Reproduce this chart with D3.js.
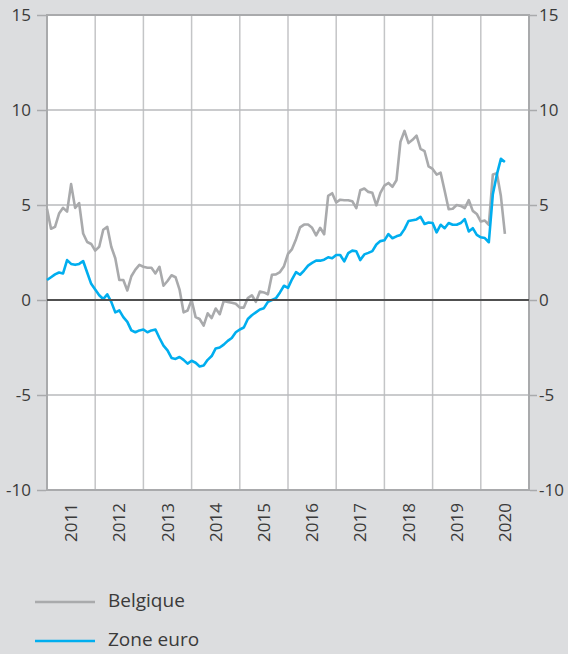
<!DOCTYPE html>
<html>
<head>
<meta charset="utf-8">
<script src="https://cdn.jsdelivr.net/npm/d3@7"></script>
<style>
  body { margin: 0; background: #dcdddf; }
  svg { display: block; font-family: "Open Sans", "Noto Sans", sans-serif; }
</style>
</head>
<body>
<svg id="chart" width="568" height="654"></svg>
<script>
// monthly series, Jan 2011 -> Jul 2020
const years = [2011, 2012, 2013, 2014, 2015, 2016, 2017, 2018, 2019, 2020];
const yTicks = [-10, -5, 0, 5, 10, 15];

const belgique = [
  4.8, 3.75, 3.85, 4.55, 4.85, 4.65, 6.1, 4.85, 5.1, 3.5, 3.05, 2.95,
  2.6, 2.8, 3.7, 3.85, 2.8, 2.2, 1.05, 1.05, 0.5, 1.25, 1.6, 1.85,
  1.75, 1.7, 1.7, 1.4, 1.75, 0.75, 1.0, 1.3, 1.2, 0.55, -0.65, -0.55,
  0.0, -0.9, -1.0, -1.35, -0.7, -0.95, -0.45, -0.75, -0.05, -0.1, -0.15, -0.2,
  -0.4, -0.4, 0.1, 0.25, -0.1, 0.45, 0.4, 0.3, 1.33, 1.35, 1.47, 1.78,
  2.43, 2.68, 3.2, 3.82, 3.97, 3.97, 3.8, 3.4, 3.8, 3.46, 5.48, 5.62,
  5.13, 5.28, 5.25, 5.25, 5.2, 4.83, 5.78, 5.87, 5.69, 5.64, 4.98, 5.64,
  6.02, 6.16, 5.96, 6.3, 8.33, 8.9, 8.26, 8.43, 8.65, 7.95, 7.83, 7.03,
  6.9, 6.6, 6.7, 5.75, 4.78, 4.8, 5.0, 4.95, 4.83, 5.26, 4.69, 4.53,
  4.13, 4.18, 3.96, 6.61, 6.67, 5.47, 3.48
];

const zoneEuro = [
  1.05, 1.2, 1.35, 1.45, 1.4, 2.1, 1.9, 1.85, 1.9, 2.05, 1.45, 0.85,
  0.55, 0.25, 0.05, 0.3, -0.1, -0.65, -0.55, -0.9, -1.15, -1.6, -1.7, -1.6,
  -1.55, -1.7, -1.6, -1.55, -2.0, -2.4, -2.65, -3.05, -3.1, -3.0, -3.15, -3.35,
  -3.2, -3.3, -3.5, -3.45, -3.15, -2.95, -2.55, -2.5, -2.35, -2.15, -2.0, -1.7,
  -1.55, -1.45, -1.0, -0.8, -0.65, -0.5, -0.43, -0.1, 0.0, 0.09, 0.4, 0.75,
  0.64, 1.09, 1.47, 1.33, 1.55, 1.81, 1.95, 2.07, 2.07, 2.12, 2.25, 2.2,
  2.37, 2.37, 2.03, 2.47, 2.6, 2.57, 2.1, 2.4, 2.48, 2.57, 2.92, 3.1,
  3.14, 3.47, 3.25, 3.35, 3.42, 3.73, 4.16, 4.2, 4.24, 4.38, 4.0, 4.08,
  4.05, 3.56, 3.96, 3.78, 4.05, 3.96, 3.96, 4.05, 4.26, 3.61, 3.78, 3.43,
  3.3, 3.26, 3.04, 5.57, 6.61, 7.43, 7.26
];

const series = [
  { name: "Belgique", values: belgique, color: "#a9aaac" },
  { name: "Zone euro", values: zoneEuro, color: "#00aeef" }
];

const plotLeft = 47, plotRight = 529, plotTop = 15, plotBottom = 490;
const textColor = "#3a3a3a";

const svg = d3.select("#chart");

const x = d3.scaleLinear().domain([0, years.length * 12]).range([plotLeft, plotRight]);
const y = d3.scaleLinear().domain([-10, 15]).range([plotBottom, plotTop]);

// plot background
svg.append("rect")
   .attr("x", plotLeft).attr("y", plotTop)
   .attr("width", plotRight - plotLeft).attr("height", plotBottom - plotTop)
   .attr("fill", "#fff");

// vertical year grid
svg.append("g")
   .selectAll("line")
   .data(d3.range(1, years.length))
   .join("line")
     .attr("x1", i => x(i * 12)).attr("x2", i => x(i * 12))
     .attr("y1", plotTop).attr("y2", plotBottom)
     .attr("stroke", "#c4c5c7").attr("stroke-width", 1.5);

// horizontal grid
svg.append("g")
   .selectAll("line")
   .data(yTicks.filter(d => d !== 0 && d !== 15 && d !== -10))
   .join("line")
     .attr("x1", plotLeft).attr("x2", plotRight)
     .attr("y1", d => y(d)).attr("y2", d => y(d))
     .attr("stroke", "#b9babc").attr("stroke-width", 1.5);

// frame
svg.append("rect")
   .attr("x", plotLeft).attr("y", plotTop)
   .attr("width", plotRight - plotLeft).attr("height", plotBottom - plotTop)
   .attr("fill", "none").attr("stroke", "#a9aaac").attr("stroke-width", 2);

// y axes both sides (plain hyphen for negatives, like the original)
const fmt = d => String(d);
const yAxisL = d3.axisLeft(y).tickValues(yTicks).tickFormat(fmt).tickSize(9).tickPadding(6);
const yAxisR = d3.axisRight(y).tickValues(yTicks).tickFormat(fmt).tickSize(7).tickPadding(2);

svg.append("g")
   .attr("transform", `translate(${plotLeft - 1},0)`)
   .call(yAxisL)
   .call(g => g.select(".domain").remove())
   .call(g => g.selectAll(".tick line").attr("stroke", "#a9aaac").attr("stroke-width", 1.5))
   .call(g => g.selectAll(".tick text").attr("font-size", 17).attr("fill", textColor)
               .attr("font-family", "'Open Sans', sans-serif"));

svg.append("g")
   .attr("transform", `translate(${plotRight + 1},0)`)
   .call(yAxisR)
   .call(g => g.select(".domain").remove())
   .call(g => g.selectAll(".tick line").attr("stroke", "#a9aaac").attr("stroke-width", 1.5))
   .call(g => g.selectAll(".tick text").attr("font-size", 17).attr("fill", textColor)
               .attr("font-family", "'Open Sans', sans-serif"));

// year labels, rotated
svg.append("g")
   .selectAll("text")
   .data(years)
   .join("text")
     .attr("transform", (d, i) => `translate(${x(i * 12 + 6) + 6},${plotBottom + 13}) rotate(-90)`)
     .attr("text-anchor", "end")
     .attr("font-size", 17)
     .attr("fill", textColor)
     .text(d => d);

// series lines
const line = d3.line()
  .x((d, i) => x(i))
  .y(d => y(d));

svg.append("g")
   .selectAll("path")
   .data(series)
   .join("path")
     .attr("d", s => line(s.values))
     .attr("fill", "none")
     .attr("stroke", s => s.color)
     .attr("stroke-width", 2.6)
     .attr("stroke-linejoin", "round");

// zero line
svg.append("line")
   .attr("x1", plotLeft).attr("x2", plotRight)
   .attr("y1", y(0)).attr("y2", y(0))
   .attr("stroke", "#505050").attr("stroke-width", 2);

// legend
const legend = svg.append("g")
  .selectAll("g")
  .data(series)
  .join("g")
    .attr("transform", (d, i) => `translate(35,${602 + i * 39})`);

legend.append("line")
  .attr("x1", 0).attr("x2", 60)
  .attr("stroke", d => d.color).attr("stroke-width", 2.5);

legend.append("text")
  .attr("x", 73).attr("y", 5)
  .attr("font-size", 19)
  .attr("fill", textColor)
  .text(d => d.name);
</script>
</body>
</html>
